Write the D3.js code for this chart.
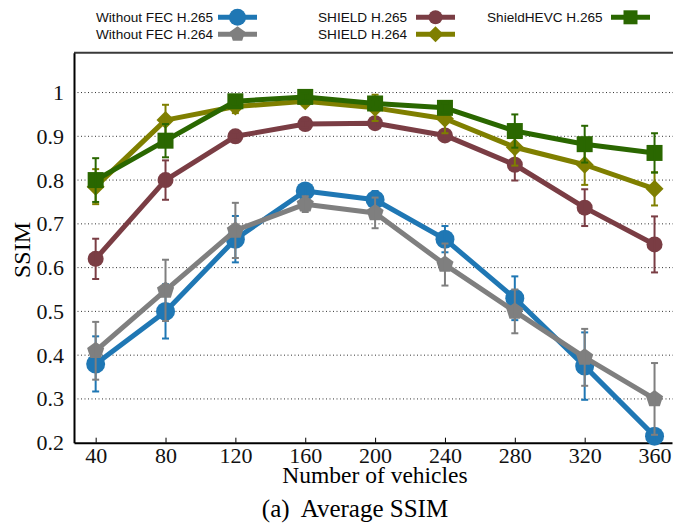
<!DOCTYPE html>
<html>
<head>
<meta charset="utf-8">
<script src="https://cdn.jsdelivr.net/npm/d3@7"></script>
<style>
    body { margin: 0; background: #fff; }
    .tick text { font-family: "Liberation Serif", "Times New Roman", serif; }
    .gridLines { stroke: #333; stroke-width: 1; stroke-dasharray: 1,2.5; }
</style>
</head>
<body>
<script>
//chart data
var vehicles = [40, 80, 120, 160, 200, 240, 280, 320, 360];
var xTicks = [40, 80, 120, 160, 200, 240, 280, 320, 360];
var yTicks = [0.2, 0.3, 0.4, 0.5, 0.6, 0.7, 0.8, 0.9, 1];

var noFec265 = [0.38, 0.50, 0.665, 0.775, 0.755, 0.665, 0.53, 0.375, 0.215];
var noFec265Err = [0.063, 0.062, 0.053, 0.012, 0.02, 0.03, 0.05, 0.077, 0.012];
var noFec264 = [0.41, 0.548, 0.685, 0.745, 0.725, 0.607, 0.50, 0.395, 0.30];
var noFec264Err = [0.066, 0.07, 0.063, 0.018, 0.035, 0.048, 0.05, 0.065, 0.082];
var shield265 = [0.62, 0.80, 0.90, 0.928, 0.93, 0.902, 0.835, 0.737, 0.653];
var shield265Err = [0.046, 0.045, 0.008, 0.008, 0.01, 0.008, 0.036, 0.042, 0.064];
var shield264 = [0.785, 0.937, 0.968, 0.98, 0.965, 0.94, 0.875, 0.835, 0.78];
var shield264Err = [0.04, 0.035, 0.015, 0.01, 0.03, 0.033, 0.042, 0.046, 0.038];
var shieldHevc265 = [0.80, 0.89, 0.98, 0.99, 0.975, 0.965, 0.912, 0.882, 0.862];
var shieldHevc265Err = [0.05, 0.038, 0.008, 0.008, 0.008, 0.01, 0.038, 0.042, 0.045];

var seriesNames = ["Without FEC H.265", "Without FEC H.264", "SHIELD H.265", "SHIELD H.264", "ShieldHEVC H.265"];

(function(){
    var width = 673,
        height = 525;

    var series = [
        {name: seriesNames[0], values: noFec265, err: noFec265Err, color: "#1f77b4", marker: "circle", size: 9.5},
        {name: seriesNames[1], values: noFec264, err: noFec264Err, color: "#7f7f7f", marker: "pentagon", size: 9},
        {name: seriesNames[2], values: shield265, err: shield265Err, color: "#7a3d44", marker: "circle", size: 8},
        {name: seriesNames[3], values: shield264, err: shield264Err, color: "#7f7f00", marker: "diamond", size: 9},
        {name: seriesNames[4], values: shieldHevc265, err: shieldHevc265Err, color: "#2a6700", marker: "square", size: 8}
    ];

    var svg = d3.select("body")
        .append("svg")
        .attr("width", width)
        .attr("height", height);

    //scales
    var x = d3.scaleLinear()
        .domain([27.6, 370])
        .range([74, 672]);

    var y = d3.scaleLinear()
        .domain([0.2, 1.091])
        .range([442.7, 52.7]);

    //dotted grid lines
    svg.selectAll(".gridLines")
        .data(yTicks.slice(1))
        .enter()
        .append("line")
        .attr("class", "gridLines")
        .attr("x1", x.range()[0])
        .attr("x2", x.range()[1] + 1)
        .attr("y1", function(d){ return y(d); })
        .attr("y2", function(d){ return y(d); });

    //frame top (right side falls outside the picture)
    svg.append("line")
        .attr("x1", x.range()[0]).attr("x2", width)
        .attr("y1", y.range()[1]).attr("y2", y.range()[1])
        .attr("stroke", "#3a3a3a").attr("stroke-width", 2);

    //x axis, ticks point inward
    var xAxis = d3.axisBottom(x)
        .tickValues(xTicks)
        .tickSizeInner(-5)
        .tickSizeOuter(0)
        .tickPadding(5);

    var gx = svg.append("g")
        .attr("transform", "translate(0," + y.range()[0] + ")")
        .call(xAxis);
    gx.select(".domain").attr("stroke", "#000").attr("stroke-width", 2);
    gx.selectAll(".tick text").attr("font-size", 22).attr("fill", "#111");

    //y axis
    var yAxis = d3.axisLeft(y)
        .tickValues(yTicks)
        .tickFormat(d3.format(".1~f"))
        .tickSize(0)
        .tickPadding(10);

    var gy = svg.append("g")
        .attr("transform", "translate(" + x.range()[0] + ",0)")
        .call(yAxis);
    gy.select(".domain").attr("stroke", "#000").attr("stroke-width", 2);
    gy.selectAll(".tick text").attr("font-size", 22).attr("fill", "#111");

    //axis titles and caption
    svg.append("text")
        .attr("transform", "translate(30,250) rotate(-90)")
        .attr("text-anchor", "middle")
        .style("font-family", "Liberation Serif, serif")
        .style("font-size", "24px")
        .text("SSIM");

    svg.append("text")
        .attr("x", 375)
        .attr("y", 483)
        .attr("text-anchor", "middle")
        .style("font-family", "Liberation Serif, serif")
        .style("font-size", "23.5px")
        .text("Number of vehicles");

    svg.append("text")
        .attr("x", 355)
        .attr("y", 517)
        .attr("text-anchor", "middle")
        .style("font-family", "Liberation Serif, serif")
        .style("font-size", "25px")
        .style("white-space", "pre")
        .text("(a)  Average SSIM");

    //lines, markers and error bars
    var line = d3.line()
        .x(function(d, i){ return x(vehicles[i]); })
        .y(function(d){ return y(d); });

    series.forEach(function(s){
        var g = svg.append("g").attr("class", "series");

        g.append("path")
            .datum(s.values)
            .attr("d", line)
            .attr("fill", "none")
            .attr("stroke", s.color)
            .attr("stroke-width", 5)
            .attr("stroke-linejoin", "round");

        g.selectAll(".marker")
            .data(s.values)
            .enter()
            .append("path")
            .attr("class", "marker")
            .attr("d", markerPath(s.marker, s.size))
            .attr("transform", function(d, i){
                return "translate(" + x(vehicles[i]) + "," + y(d) + ")";
            })
            .attr("fill", s.color);

        //error bars
        var eb = g.selectAll(".errBar")
            .data(s.values)
            .enter()
            .append("g")
            .attr("class", "errBar")
            .attr("stroke", s.color)
            .attr("stroke-width", 2);

        eb.append("line")
            .attr("x1", function(d, i){ return x(vehicles[i]); })
            .attr("x2", function(d, i){ return x(vehicles[i]); })
            .attr("y1", function(d, i){ return y(d + s.err[i]); })
            .attr("y2", function(d, i){ return y(d - s.err[i]); });
        [1, -1].forEach(function(sign){
            eb.append("line")
                .attr("x1", function(d, i){ return x(vehicles[i]) - 3.5; })
                .attr("x2", function(d, i){ return x(vehicles[i]) + 3.5; })
                .attr("y1", function(d, i){ return y(d + sign * s.err[i]); })
                .attr("y2", function(d, i){ return y(d + sign * s.err[i]); });
        });
    });

    //legend
    var legendCols = [
        {tx: 96, lx: 218},
        {tx: 318, lx: 416},
        {tx: 487, lx: 611}
    ];
    var legendRows = [17.3, 34.3];

    series.forEach(function(s, i){
        var col = legendCols[Math.floor(i / 2)],
            cy = legendRows[i % 2];
        var lg = svg.append("g").attr("class", "legend");

        lg.append("text")
            .attr("x", col.tx)
            .attr("y", cy + 4.5)
            .style("font-family", "Liberation Sans, Arial, sans-serif")
            .style("font-size", "13.6px")
            .attr("fill", "#111")
            .text(s.name);

        lg.append("line")
            .attr("x1", col.lx)
            .attr("x2", col.lx + 39)
            .attr("y1", cy)
            .attr("y2", cy)
            .attr("stroke", s.color)
            .attr("stroke-width", 5);

        lg.append("path")
            .attr("d", markerPath(s.marker, s.size - 1))
            .attr("transform", "translate(" + (col.lx + 19.5) + "," + cy + ")")
            .attr("fill", s.color);
    });

    //build marker outline around origin
    function markerPath(type, r){
        if (type == "circle"){
            return d3.symbol().type(d3.symbolCircle).size(Math.PI * r * r)();
        }
        var pts;
        if (type == "square"){
            pts = [[-r, -r], [r, -r], [r, r], [-r, r]];
        } else if (type == "diamond"){
            pts = [[0, -r], [r, 0], [0, r], [-r, 0]];
        } else {
            pts = d3.range(5).map(function(k){
                var a = -Math.PI / 2 + k * 2 * Math.PI / 5;
                return [r * Math.cos(a), r * Math.sin(a)];
            });
        }
        return "M" + pts.map(function(p){ return p.join(","); }).join("L") + "Z";
    }
})();
</script>
</body>
</html>
